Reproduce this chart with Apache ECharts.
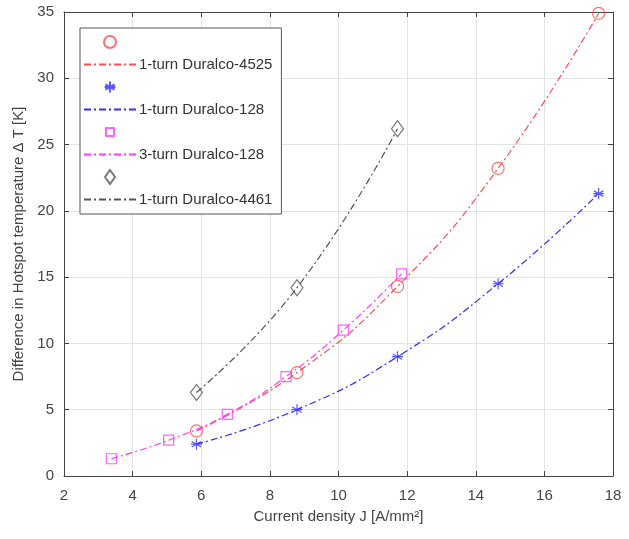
<!DOCTYPE html>
<html><head><meta charset="utf-8">
<script src="https://cdn.jsdelivr.net/npm/echarts@6/dist/echarts.min.js"></script>
<style>html,body{margin:0;padding:0;background:#fff}#c{width:629px;height:539px}</style>
</head><body><div id="c"></div>
<script>
// Data
const j1turn = [5.86, 8.79, 11.72, 14.65, 17.58];
const dT4525 = [3.4, 7.8, 14.3, 23.2, 34.9];
const dT128 = [2.4, 5.0, 9.0, 14.5, 21.3];
const j3turn = [3.38, 5.05, 6.76, 8.47, 10.14, 11.84];
const dT3turn128 = [1.3, 2.7, 4.65, 7.5, 11.0, 15.25];
const j4461 = [5.86, 8.79, 11.72];
const dT4461 = [6.3, 14.2, 26.2];
const xTicks = {min: 2, max: 18, interval: 2};
const yTicks = {min: 0, max: 35, interval: 5};
const names = ['1-turn Duralco-4525', '1-turn Duralco-128', '3-turn Duralco-128', '1-turn Duralco-4461'];

const pairs = (xs, ys) => xs.map((x, i) => [x, ys[i]]);
const RED = '#ff4d4d', BLUE = '#2f2fff', MAG = '#ff3dff', BLK = '#555555';
const dashDot = [7, 3, 2, 3];
const star = 'path://M0,-10L0,10M-8.66,-5L8.66,5M-8.66,5L8.66,-5M-10,0L10,0';
// legend icons (padded so they render at the reference's size inside a 14px box)
const legCircle = 'path://M0,0M1,7A6,6 0 1 1 13,7A6,6 0 1 1 1,7ZM14,14';
const legStar = 'path://M-13,-13M0,-10L0,10M-8.66,-5L8.66,5M-8.66,5L8.66,-5M-10,0L10,0M13,13';
const legSquare = 'path://M0,0M3,3L11,3L11,11L3,11ZM14,14';
const legDiamond = 'path://M0,0M7,0L12,7L7,14L2,7ZM14,14';

function markers(name, data, symbol, size, color) {
  return {type: 'scatter', name, data, symbol, symbolSize: size,
    itemStyle: {color: 'rgba(255,255,255,0)', borderColor: color, borderWidth: 1.2}, z: 5};
}
function fit(name, data, color) {
  return {type: 'line', name, data, smooth: 0.5, showSymbol: false, symbol: 'none',
    lineStyle: {color, width: 1.2, type: dashDot}, itemStyle: {color}};
}
const series = [
  markers('m1', pairs(j1turn, dT4525), 'circle', 12, RED),
  fit(names[0], pairs(j1turn, dT4525), RED),
  markers('m2', pairs(j1turn, dT128), star, 11, BLUE),
  fit(names[1], pairs(j1turn, dT128), BLUE),
  markers('m3', pairs(j3turn, dT3turn128), 'rect', 10, MAG),
  fit(names[2], pairs(j3turn, dT3turn128), MAG),
  markers('m4', pairs(j4461, dT4461), 'diamond', [12, 16], BLK),
  fit(names[3], pairs(j4461, dT4461), BLK)
];
const legendIcons = {m1: legCircle, m2: legStar, m3: legSquare, m4: legDiamond};
const legendData = series.map(s => s.name.startsWith('m')
  ? {name: s.name, icon: legendIcons[s.name]}
  : {name: s.name, itemStyle: {color: 'rgba(0,0,0,0)', borderWidth: 0, opacity: 0}});

const font = 'Liberation Sans, Arial, sans-serif';
const axisCommon = {
  axisLine: {show: true, onZero: false, lineStyle: {color: '#444', width: 1}},
  axisTick: {show: true, inside: true, length: 5, lineStyle: {color: '#444'}},
  splitLine: {show: true, lineStyle: {color: '#e3e3e3', width: 1}},
};
const chart = echarts.init(document.getElementById('c'), null, {renderer: 'canvas'});
chart.setOption({
  animation: false,
  backgroundColor: '#fff',
  grid: {left: 64, right: 16, top: 12, bottom: 63, show: false},
  xAxis: [
    Object.assign({type: 'value', position: 'bottom', min: xTicks.min, max: xTicks.max, interval: xTicks.interval,
      name: 'Current density J [A/mm²]', nameLocation: 'middle', nameGap: 33,
      nameTextStyle: {fontFamily: font, fontSize: 15, color: '#444'},
      axisLabel: {fontFamily: font, fontSize: 15, color: '#444', margin: 12}}, axisCommon),
    Object.assign({type: 'value', position: 'top', min: xTicks.min, max: xTicks.max, interval: xTicks.interval,
      axisLabel: {show: false}}, axisCommon, {splitLine: {show: false}})
  ],
  yAxis: [
    Object.assign({type: 'value', position: 'left', min: yTicks.min, max: yTicks.max, interval: yTicks.interval,
      name: 'Difference in Hotspot temperature Δ T [K]', nameLocation: 'middle', nameGap: 38,
      nameTextStyle: {fontFamily: font, fontSize: 15, color: '#444'},
      axisLabel: {fontFamily: font, fontSize: 15, color: '#444', margin: 10}}, axisCommon),
    Object.assign({type: 'value', position: 'right', min: yTicks.min, max: yTicks.max, interval: yTicks.interval,
      axisLabel: {show: false}}, axisCommon, {splitLine: {show: false}})
  ],
  legend: {
    orient: 'vertical', left: 80, top: 28, padding: [6, 9, 7, 3],
    backgroundColor: '#fff', borderColor: '#555', borderWidth: 1,
    itemWidth: 52, itemHeight: 14, itemGap: 7, symbolKeepAspect: true,
    data: legendData,
    formatter: n => n.startsWith('m') ? '' : n,
    textStyle: {fontFamily: font, fontSize: 15, color: '#333', padding: [0, 0, 0, -2]}
  },
  series
});
</script></body></html>
